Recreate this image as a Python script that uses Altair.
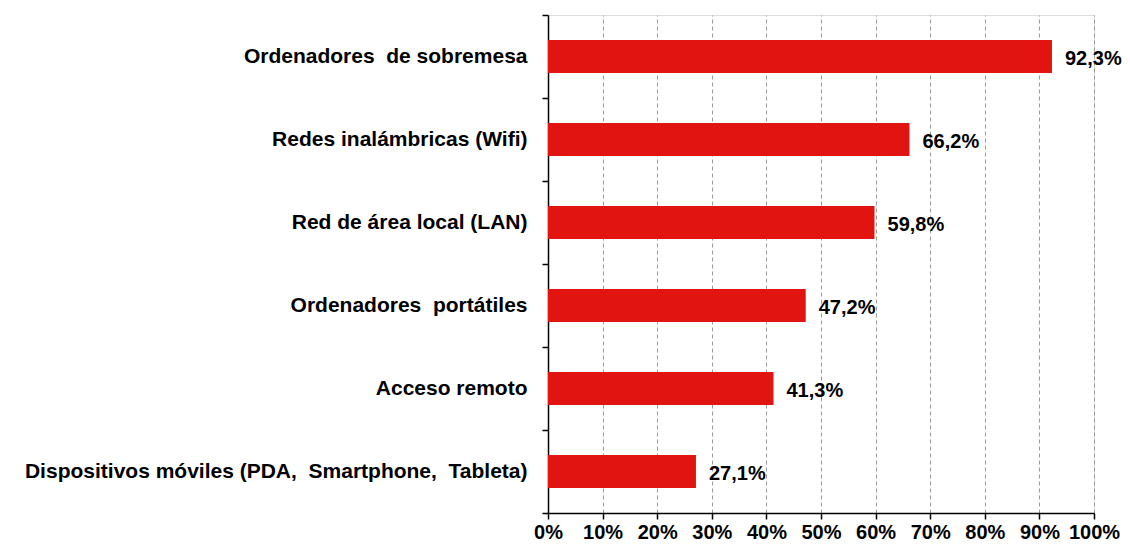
import altair as alt
import pandas as pd

categories = [
    "Ordenadores \u00a0de sobremesa",
    "Redes inalámbricas (Wifi)",
    "Red de área local (LAN)",
    "Ordenadores \u00a0portátiles",
    "Acceso remoto",
    "Dispositivos móviles (PDA, \u00a0Smartphone, \u00a0Tableta)",
]
values = [92.3, 66.2, 59.8, 47.2, 41.3, 27.1]
value_labels = ["92,3%", "66,2%", "59,8%", "47,2%", "41,3%", "27,1%"]
x_ticks = [0, 10, 20, 30, 40, 50, 60, 70, 80, 90, 100]

df = pd.DataFrame({"cat": categories, "val": values, "lab": value_labels})

FONT = "Liberation Sans"
RED = "#E11412"

y_enc = alt.Y(
    "cat:N",
    sort=categories,
    title=None,
    scale=alt.Scale(paddingInner=0, paddingOuter=0),
    axis=alt.Axis(
        tickBand="extent",
        tickSize=6,
        labelPadding=15,
        labelFont=FONT,
        labelFontSize=21,
        labelFontWeight="bold",
        labelColor="black",
        labelLimit=600,
        domainColor="black",
        domainWidth=1.5,
        tickColor="black",
        tickWidth=1.5,
        grid=False,
    ),
)

x_enc = alt.X(
    "val:Q",
    title=None,
    scale=alt.Scale(domain=[0, 100], nice=False),
    axis=alt.Axis(
        values=x_ticks,
        labelExpr="datum.value + '%'",
        tickSize=6,
        labelPadding=3,
        labelFont=FONT,
        labelFontSize=20,
        labelFontWeight="bold",
        labelColor="black",
        domainColor="black",
        domainWidth=1.5,
        tickColor="black",
        tickWidth=1.5,
        grid=True,
        gridColor="#9a9a9a",
        gridDash=[4, 3],
        gridWidth=1,
        labelFlush=False,
    ),
)

bars = alt.Chart(df).mark_bar(color=RED, height={"band": 0.4}).encode(x=x_enc, y=y_enc)

text = alt.Chart(df).mark_text(
    align="left",
    baseline="middle",
    dx=13,
    dy=2,
    font=FONT,
    fontSize=20,
    fontWeight="bold",
    color="black",
).encode(
    x=alt.X("val:Q", scale=alt.Scale(domain=[0, 100], nice=False)),
    y=alt.Y("cat:N", sort=categories),
    text="lab:N",
)

chart = (
    alt.layer(bars, text)
    .properties(
        width=546,
        height=498,
        autosize=alt.AutoSizeParams(type="none"),
        padding={"left": 540, "top": 7, "right": 28, "bottom": 31},
    )
    .configure_view(stroke=None)
    .configure(background="white")
)

chart.save("out.html", embed_options={"renderer": "svg", "actions": False})
